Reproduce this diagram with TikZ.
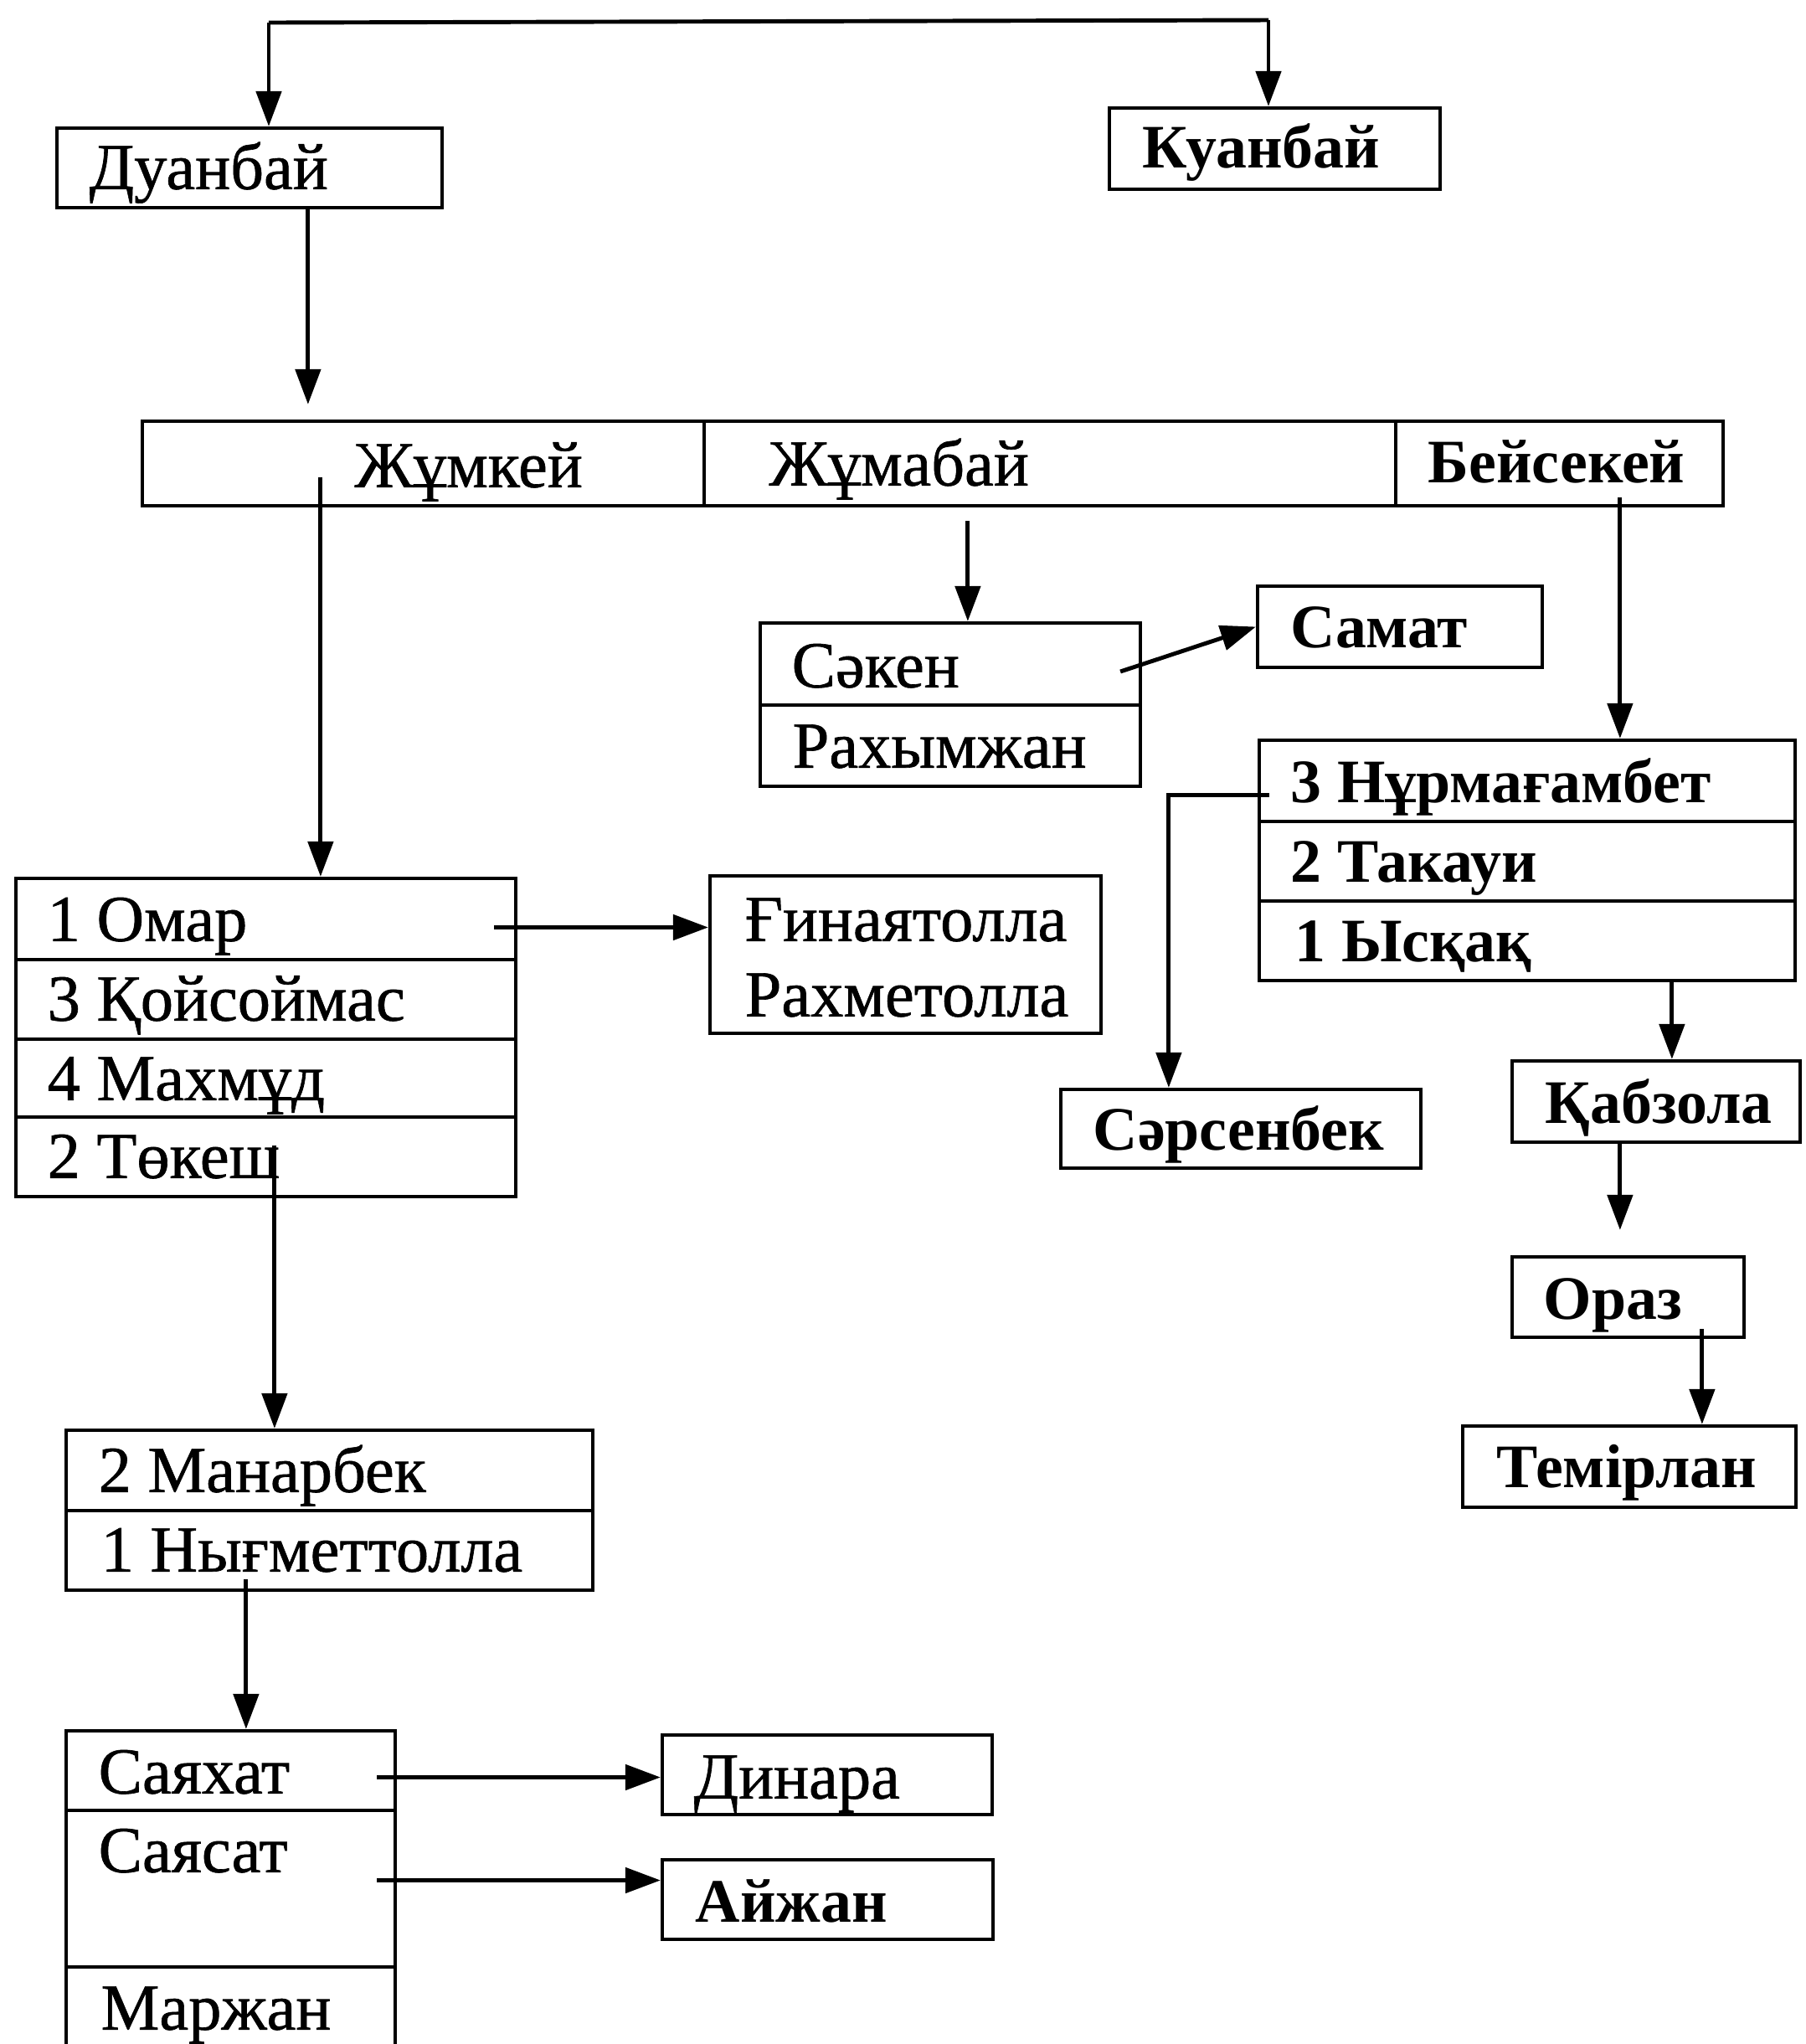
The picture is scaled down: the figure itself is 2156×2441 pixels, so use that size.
\documentclass[tikz,border=0pt]{standalone}
\usepackage{fontspec}
\setmainfont{Liberation Serif}
\newfontfamily\inkfont[FakeBold=0.8]{Liberation Serif}
\usetikzlibrary{arrows.meta,calc,fit}
\begin{document}
\begin{tikzpicture}[x=0.01cm,y=-0.01cm,
  box/.style={draw, line width=1.2pt, rectangle, inner sep=0pt},
  lbl/.style={anchor=west, inner sep=0pt, text height=13.5pt, text depth=0pt, font=\inkfont\fontsize{22.3}{26}\selectfont},
  blbl/.style={lbl, font=\fontsize{21}{25}\selectfont\bfseries},
  conn/.style={line width=1.4pt},
  arr/.style={conn, -{Triangle[length=0.42cm,width=0.3cm]}},
]
\useasboundingbox (0,0) rectangle (2156,2441);
\clip (0,0) rectangle (2156,2441);
\fill[white] (0,0) rectangle (2156,2441);

% boxes
\node[box, fit={(68,153) (528,248)}] (duanbai) {};
\node[box, fit={(1325,129) (1720,226)}] (kuanbai) {};
\node[box, fit={(170,503) (841,604)}] (cjumkei) {};
\node[box, fit={(841,503) (1667,604)}] (cjumabai) {};
\node[box, fit={(1667,503) (2058,604)}] (cbeisekei) {};
\node[box, fit={(908,744) (1362,842)}] (saken) {};
\node[box, fit={(908,842) (1362,939)}] (rakhym) {};
\node[box, fit={(1502,700) (1842,797)}] (samat) {};
\node[box, fit={(1504,884) (2144,981)}] (nur) {};
\node[box, fit={(1504,981) (2144,1076)}] (takaui) {};
\node[box, fit={(1504,1076) (2144,1171)}] (ysqaq) {};
\node[box, fit={(1267,1301) (1697,1395)}] (sarsen) {};
\node[box, fit={(1806,1267) (2150,1364)}] (kabzola) {};
\node[box, fit={(1806,1501) (2083,1597)}] (oraz) {};
\node[box, fit={(1747,1703) (2145,1800)}] (temir) {};
\node[box, fit={(19,1049) (616,1146)}] (omar) {};
\node[box, fit={(19,1146) (616,1241)}] (koisoi) {};
\node[box, fit={(19,1241) (616,1334)}] (makhmud) {};
\node[box, fit={(19,1334) (616,1429)}] (tokesh) {};
\node[box, fit={(848,1046) (1315,1234)}] (ginayat) {};
\node[box, fit={(79,1708) (708,1804)}] (manar) {};
\node[box, fit={(79,1804) (708,1899)}] (nygmet) {};
\node[box, fit={(79,2067) (472,2162)}] (sayahat) {};
\node[box, fit={(79,2162) (472,2349)}] (sayasat) {};
\node[box, fit={(79,2349) (472,2480)}] (marzhan) {};
\node[box, fit={(791,2072) (1185,2167)}] (dinara) {};
\node[box, fit={(791,2221) (1186,2316)}] (aizhan) {};

% texts
\node[lbl] (tduanbai) at (106,202) {Дуанбай};
\node[blbl] (tkuanbai) at (1364,177) {Куанбай};
\node[lbl] (tjumkei) at (423,558) {Жұмкей};
\node[lbl] (tjumabai) at (918,556) {Жұмабай};
\node[blbl] (tbeisekei) at (1705,553) {Бейсекей};
\node[lbl] (tsaken) at (945,797) {Сәкен};
\node[lbl] (trakhym) at (946,893) {Рахымжан};
\node[blbl] (tsamat) at (1541,750) {Самат};
\node[blbl] (tnur) at (1541,935) {3 Нұрмағамбет};
\node[blbl] (ttakaui) at (1541,1030) {2 Такауи};
\node[blbl] (tysqaq) at (1546,1125) {1 Ысқақ};
\node[blbl] (tsarsen) at (1305,1350) {Сәрсенбек};
\node[blbl] (tkabzola) at (1845,1318) {Қабзола};
\node[blbl] (toraz) at (1843,1552) {Ораз};
\node[blbl] (ttemir) at (1787,1753) {Темірлан};
\node[lbl] (tomar) at (56,1100) {1 Омар};
\node[lbl] (tkoisoi) at (56,1195) {3 Қойсоймас};
\node[lbl] (tmakhmud) at (56,1290) {4 Махмұд};
\node[lbl] (ttokesh) at (56,1383) {2 Төкеш};
\node[lbl] (tginayat) at (889,1100) {Ғинаятолла};
\node[lbl] (trakhmet) at (889,1190) {Рахметолла};
\node[lbl] (tmanar) at (117,1758) {2 Манарбек};
\node[lbl] (tnygmet) at (120,1853) {1 Нығметтолла};
\node[lbl] (tsayahat) at (117,2118) {Саяхат};
\node[lbl] (tsayasat) at (117,2212) {Саясат};
\node[lbl] (tmarzhan) at (120,2400) {Маржан};
\node[lbl] (tdinara) at (828,2124) {Динара};
\node[blbl] (taizhan) at (830,2272) {Айжан};

% connectors
\coordinate (topL) at (321,27);
\coordinate (topR) at (1515,24);
\draw[conn] (topL) -- (topR);
\draw[arr] (topL) -- (topL |- duanbai.north);
\draw[arr] (topR) -- (topR |- kuanbai.north);

\draw[arr] ($(duanbai.south west)+(302,0)$) -- ($(cjumkei.north west)+(200,-18)$);
\draw[arr] ($(cjumkei.south west)+(215,-36)$) -- ($(omar.north west)+(366,0)$);
\draw[arr] ($(cjumabai.south west)+(317,16)$) -- ($(saken.north west)+(250,0)$);
\draw[arr] ($(saken.east)+(-26,9)$) -- (samat.west);
\draw[arr] ($(cbeisekei.south west)+(270,-12)$) -- ($(nur.north west)+(433,0)$);
\draw[arr] ($(nur.west)+(14,17)$) -| ($(sarsen.north west)+(131,0)$);
\draw[arr] ($(ysqaq.south west)+(495,0)$) -- ($(kabzola.north west)+(193,0)$);
\draw[arr] ($(kabzola.south west)+(131,0)$) -- ($(oraz.north west)+(131,-30)$);
\draw[arr] ($(oraz.south west)+(229,-12)$) -- ($(temir.north west)+(288,0)$);

\coordinate (oS) at ($(omar.east)+(-28,10)$);
\draw[arr] (oS) -- (oS -| ginayat.west);
\draw[arr] ($(tokesh.north west)+(311,36)$) -- ($(manar.north west)+(251,0)$);
\draw[arr] ($(nygmet.south west)+(217,-15)$) -- ($(sayahat.north west)+(217,0)$);
\coordinate (sS) at ($(sayahat.east)+(-24,8)$);
\draw[arr] (sS) -- (sS -| dinara.west);
\coordinate (sT) at ($(sayasat.east)+(-24,-10)$);
\draw[arr] (sT) -- (sT -| aizhan.west);
\end{tikzpicture}
\end{document}
